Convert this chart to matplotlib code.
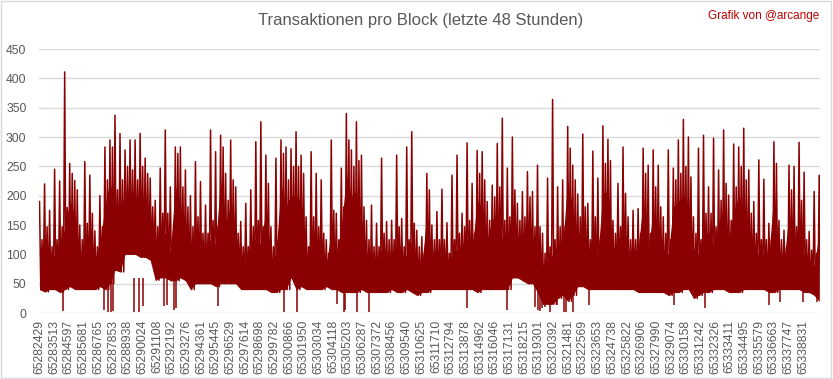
import matplotlib
matplotlib.use("Agg")
import matplotlib.pyplot as plt
import numpy as np

plt.rcParams['font.family'] = ['Liberation Sans', 'DejaVu Sans']

FIRST_BLOCK = 65282429
LAST_BLOCK = 65340028

# one sample every ~370 blocks
tx_peak = [190, 220, 175, 245, 225, 411, 255, 226, 150, 258, 235, 140, 200, 283, 295, 337,
           306, 278, 295, 295, 306, 264, 230, 192, 247, 312, 215, 283, 283, 244, 200, 258,
           224, 184, 312, 275, 303, 238, 295, 215, 156, 187, 210, 292, 326, 269, 147, 264,
           295, 283, 280, 309, 269, 164, 275, 238, 227, 125, 295, 170, 247, 340, 278, 326,
           269, 158, 184, 153, 264, 156, 158, 269, 161, 283, 309, 141, 130, 238, 150, 173,
           211, 154, 235, 269, 170, 290, 221, 277, 275, 190, 218, 289, 332, 247, 300, 187,
           207, 241, 207, 252, 136, 230, 364, 215, 227, 318, 252, 203, 305, 187, 276, 230,
           319, 296, 158, 221, 283, 164, 175, 178, 281, 252, 278, 252, 164, 278, 247, 295,
           330, 300, 164, 281, 303, 215, 298, 244, 312, 201, 288, 283, 315, 244, 190, 261,
           228, 153, 292, 158, 141, 252, 250, 291, 240, 139, 207, 235]
tx_body = [125, 147, 113, 125, 147, 180, 238, 210, 125, 153, 170, 113, 147, 227, 283, 210,
           227, 250, 244, 227, 250, 238, 181, 147, 170, 170, 130, 272, 215, 181, 147, 164,
           136, 136, 158, 147, 283, 192, 227, 136, 113, 113, 147, 158, 147, 221, 113, 125,
           272, 227, 250, 250, 238, 113, 164, 147, 136, 102, 175, 125, 181, 295, 250, 260,
           181, 125, 113, 113, 136, 125, 125, 147, 113, 125, 153, 113, 102, 210, 125, 125,
           125, 102, 125, 136, 147, 158, 136, 238, 227, 158, 198, 215, 158, 164, 210, 158,
           164, 198, 147, 147, 102, 113, 125, 147, 147, 281, 227, 164, 181, 125, 164, 125,
           255, 260, 136, 147, 204, 125, 125, 136, 238, 136, 215, 181, 136, 125, 227, 238,
           250, 232, 136, 125, 170, 170, 147, 192, 221, 158, 215, 250, 227, 170, 136, 125,
           125, 125, 255, 125, 113, 210, 147, 192, 125, 107, 102, 170]
tx_floor = [40, 36, 40, 40, 35, 40, 45, 40, 40, 40, 40, 40, 45, 40, 50, 73,
            70, 100, 100, 100, 95, 95, 90, 56, 60, 60, 55, 55, 60, 55, 40, 50,
            50, 50, 50, 45, 50, 50, 50, 50, 40, 40, 40, 40, 40, 40, 35, 35,
            40, 40, 60, 40, 45, 40, 40, 40, 40, 45, 40, 40, 35, 35, 35, 35,
            40, 35, 35, 35, 35, 35, 40, 35, 35, 40, 35, 30, 35, 35, 40, 40,
            40, 40, 40, 40, 40, 40, 40, 35, 40, 40, 40, 40, 40, 40, 60, 60,
            55, 50, 50, 35, 15, 15, 15, 25, 30, 20, 30, 45, 45, 40, 40, 40,
            40, 40, 40, 40, 40, 40, 40, 35, 35, 35, 35, 35, 35, 30, 35, 35,
            40, 40, 25, 30, 35, 35, 40, 40, 40, 35, 35, 35, 40, 40, 40, 40,
            40, 35, 35, 40, 40, 40, 40, 40, 35, 35, 30, 20]

# single blocks that dropped close to zero
dip_blocks = [65284165, 65287194, 65287489, 65287711, 65287859, 65289410, 65289779, 65290075,
              65291626, 65291847, 65292365, 65292513, 65295615, 65300490, 65301450, 65304405,
              65304923, 65304996, 65305882, 65306769, 65314008, 65316963, 65319032, 65319253,
              65319401, 65319548, 65319770, 65320140, 65320656, 65321173, 65321321, 65321840,
              65323020, 65329300, 65331589, 65336317, 65337129, 65338829, 65339863]
dip_values = [3, 5, 2, 2, 3, 2, 2, 12, 12, 14, 5, 8, 12, 2, 2, 15,
              2, 5, 2, 2, 8, 5, 10, 5, 3, 8, 10, 2, 14, 2, 2, 2,
              14, 14, 8, 14, 18, 18, 18]

tick_blocks = [65282429, 65283513, 65284597, 65285681, 65286765, 65287853, 65288938, 65290024,
               65291108, 65292192, 65293276, 65294361, 65295445, 65296529, 65297614, 65298698,
               65299782, 65300866, 65301950, 65303034, 65304118, 65305203, 65306287, 65307372,
               65308456, 65309540, 65310625, 65311710, 65312794, 65313878, 65314962, 65316046,
               65317131, 65318215, 65319301, 65320392, 65321481, 65322569, 65323653, 65324738,
               65325822, 65326906, 65327990, 65329074, 65330158, 65331242, 65332326, 65333411,
               65334495, 65335579, 65336663, 65337747, 65338831]

red = '#8b0000'
grey = '#595959'

blocks = np.linspace(FIRST_BLOCK, LAST_BLOCK, len(tx_peak))
step = blocks[1] - blocks[0]

# one trace: peak -> floor -> body -> floor for every sample
xs = np.column_stack([blocks, blocks + step / 4, blocks + step / 2, blocks + 3 * step / 4]).ravel()
ys = np.column_stack([tx_peak, tx_floor, tx_body, tx_floor]).ravel()

fig = plt.figure(figsize=(8.33, 3.79), dpi=100)
ax = fig.add_axes([0.0468, 0.1741, 0.9376, 0.6966])

# solid core under the spikes
ax.fill_between(blocks, tx_floor, 0.8 * np.array(tx_body), color=red, lw=0)
ax.plot(xs, ys, color=red, lw=1.1)
ax.vlines(dip_blocks, dip_values, 60, color=red, lw=1.1)

ax.set_xlim(FIRST_BLOCK - 40, LAST_BLOCK + 60)
ax.set_ylim(0, 450)
ax.set_yticks(range(0, 451, 50))
ax.set_xticks(tick_blocks)
ax.set_xticklabels([str(b) for b in tick_blocks], rotation=90)
ax.tick_params(axis='both', length=0, labelcolor=grey, labelsize=8.7)
ax.tick_params(axis='x', pad=5)
ax.tick_params(axis='y', pad=9)
ax.grid(axis='y', color='#d9d9d9', lw=1)
ax.set_axisbelow(True)
for s in ax.spines.values():
    s.set_visible(False)

fig.text(0.505, 0.947, 'Transaktionen pro Block (letzte 48 Stunden)', ha='center', va='center',
         fontsize=12, color=grey)
fig.text(0.984, 0.958, 'Grafik von @arcange', ha='right', va='center', fontsize=8.5,
         color='#c00000')

fig.patches.append(plt.Rectangle((0.001, 0.002), 0.997, 0.995, transform=fig.transFigure,
                                 fill=False, edgecolor='#d9d9d9', lw=1))

fig.savefig('out.png', dpi=100)
